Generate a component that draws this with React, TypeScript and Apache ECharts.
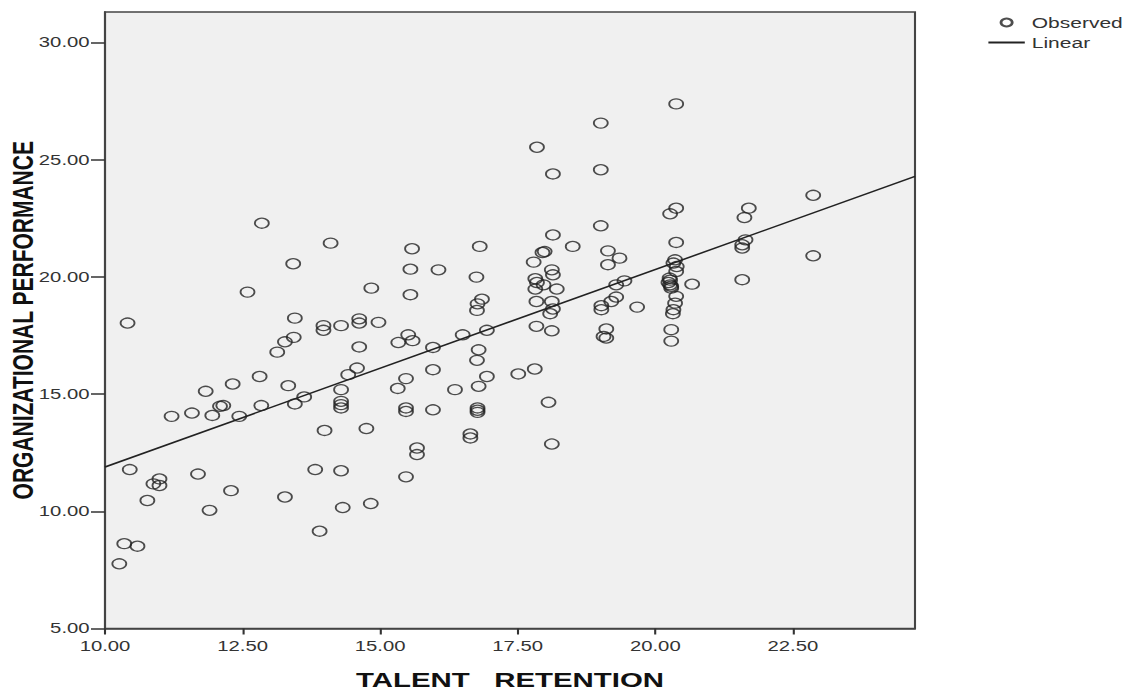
import React, { useEffect, useRef } from "react";
import * as echarts from "echarts";

// Axis ticks / ranges
const X_TICKS = [10, 12.5, 15, 17.5, 20, 22.5];
const Y_TICKS = [5, 10, 15, 20, 25, 30];
const X_MIN = 10;
const X_MAX = 24.72;
const Y_MIN = 5;
const Y_MAX = 31.3;

// Observed points (TALENT RETENTION, ORGANIZATIONAL PERFORMANCE), paired by index
const talentRetention = [
  10.41, 12.85, 14.1, 13.42, 12.59, 14.84, 13.45, 13.97, 13.97, 14.29, 14.62, 14.62, 14.97, 13.43, 13.27,
  13.13, 14.62, 12.81, 12.32, 13.33, 11.83, 14.58, 14.42, 14.29, 11.21, 11.58, 11.95, 12.09, 12.15, 12.44,
  12.84, 13.45, 13.62, 14.29, 14.29, 14.29, 13.99, 14.75, 10.45, 10.99, 10.88, 10.99, 10.77, 11.69, 12.29,
  11.9, 13.27, 13.82, 14.29, 14.32, 14.83, 13.9, 10.35, 10.59, 10.26,
  15.58, 16.81, 15.55, 16.06, 16.75, 15.55, 16.85, 16.77, 16.76, 15.51, 15.33, 15.59, 15.96, 16.5, 16.94,
  16.79, 16.76, 15.96, 15.47, 15.32, 16.36, 16.94, 16.79, 15.47, 15.47, 15.96, 16.77, 16.77, 16.77, 16.64,
  16.64, 15.67, 15.67, 17.51, 17.81, 18.06, 18.12, 15.47,
  17.85, 18.14, 17.79, 17.99, 17.95, 18.14, 18.5, 18.12, 18.14, 17.82, 17.85, 17.82, 17.97, 18.21, 17.84,
  18.12, 18.14, 18.09, 17.84, 18.12,
  19.01, 19.01, 19.01, 19.14, 19.35, 19.14, 19.29, 19.44, 19.29, 19.2, 19.02, 19.02, 19.67, 19.11, 19.06, 19.11,
  20.38, 20.38, 20.27, 20.38, 20.36, 20.33, 20.39, 20.38, 20.26, 20.24, 20.27, 20.29, 20.67, 20.38, 20.36,
  20.33, 20.32, 20.29, 20.29, 20.27, 20.29,
  21.7, 21.62, 21.64, 21.58, 21.58, 21.58, 22.87, 22.87,
];
const orgPerformance = [
  18.03, 22.29, 21.44, 20.56, 19.35, 19.52, 18.24, 17.92, 17.72, 17.92, 18.21, 18.03, 18.06, 17.42, 17.23,
  16.79, 17.01, 15.75, 15.43, 15.36, 15.12, 16.11, 15.83, 15.19, 14.05, 14.19, 14.09, 14.48, 14.51, 14.05,
  14.51, 14.58, 14.88, 14.69, 14.55, 14.41, 13.45, 13.53, 11.78, 11.38, 11.17, 11.1, 10.46, 11.59, 10.88,
  10.04, 10.61, 11.78, 11.73, 10.16, 10.33, 9.15, 8.62, 8.51, 7.76,
  21.2, 21.3, 20.33, 20.3, 19.99, 19.24, 19.05, 18.85, 18.57, 17.53, 17.2, 17.28, 16.99, 17.53, 17.72,
  16.89, 16.44, 16.04, 15.66, 15.24, 15.19, 15.75, 15.33, 14.41, 14.26, 14.33, 14.41, 14.31, 14.22, 13.3,
  13.13, 12.7, 12.42, 15.86, 16.07, 14.65, 12.87, 11.47,
  25.53, 24.39, 20.63, 21.08, 21.04, 21.79, 21.3, 20.3, 20.09, 19.92, 19.76, 19.48, 19.66, 19.48, 18.95,
  18.95, 18.63, 18.43, 17.89, 17.7,
  26.56, 24.57, 22.18, 21.11, 20.8, 20.52, 19.66, 19.83, 19.14, 18.95, 18.77, 18.6, 18.71, 17.78, 17.46, 17.39,
  27.38, 22.93, 22.69, 21.47, 20.73, 20.59, 20.44, 20.23, 19.95, 19.76, 19.66, 19.52, 19.69, 19.17, 18.88,
  18.6, 18.43, 17.75, 17.26, 19.86, 19.6,
  22.93, 22.53, 21.58, 21.37, 21.23, 19.88, 23.48, 20.9,
];

// Linear fit line end points
const linearX = [10, 24.72];
const linearY = [11.89, 24.29];

const W = 1130;
const H = 692;
const STRETCH = 1.4; // the original figure is stretched horizontally
const IW = W / STRETCH;
const FONT = "Liberation Sans, Arial, sans-serif";

export default function App() {
  const ref = useRef<HTMLDivElement>(null);

  useEffect(() => {
    if (!ref.current) return;
    const chart = echarts.init(ref.current, null, { renderer: "svg", width: IW, height: H });

    const observed = talentRetention.map((x, i) => [x, orgPerformance[i]]);
    const linear = linearX.map((x, i) => [x, linearY[i]]);

    const gridLeft = 105 / STRETCH;
    const gridRight = 915 / STRETCH;

    chart.setOption({
      animation: false,
      backgroundColor: "#ffffff",
      grid: {
        left: gridLeft,
        top: 12,
        width: gridRight - gridLeft,
        height: 616.5,
        show: true,
        backgroundColor: "#f0f0f0",
        borderColor: "#444",
        borderWidth: 1.5,
        containLabel: false,
        outerBoundsMode: "none",
      },
      legend: {
        orient: "vertical",
        left: 987 / STRETCH,
        top: 15,
        padding: 0,
        itemWidth: 26,
        itemHeight: 8,
        itemGap: 5,
        textStyle: { fontSize: 15, color: "#333", fontFamily: FONT },
        data: [
          { name: "Observed" },
          { name: "Linear", itemStyle: { color: "transparent", borderColor: "transparent", borderWidth: 0 } },
        ],
      },
      xAxis: {
        type: "value",
        min: X_MIN,
        max: X_MAX,
        name: "TALENT   RETENTION",
        nameLocation: "middle",
        nameGap: 41,
        nameMoveOverlap: false,
        nameTextStyle: { fontFamily: FONT, fontWeight: "bold", fontSize: 21, lineHeight: 21, color: "#111" },
        axisLine: { show: true, onZero: false, lineStyle: { color: "#444", width: 1.5 } },
        axisTick: { show: true, customValues: X_TICKS, length: 6, lineStyle: { color: "#333", width: 1.5 } },
        axisLabel: {
          customValues: X_TICKS,
          formatter: (v: number) => v.toFixed(2),
          fontSize: 14.5,
          color: "#333",
          margin: 10,
          fontFamily: FONT,
        },
        splitLine: { show: false },
      },
      yAxis: {
        type: "value",
        min: Y_MIN,
        max: Y_MAX,
        name: "ORGANIZATIONAL PERFORMANCE",
        nameLocation: "middle",
        nameGap: 48,
        nameMoveOverlap: false,
        nameTextStyle: { fontFamily: FONT, fontWeight: "bold", fontSize: 21, lineHeight: 21, color: "#111" },
        axisLine: { show: true, onZero: false, lineStyle: { color: "#444", width: 1.5 } },
        axisTick: { show: true, customValues: Y_TICKS, length: 10, lineStyle: { color: "#333", width: 1.5 } },
        axisLabel: {
          customValues: Y_TICKS,
          formatter: (v: number) => v.toFixed(2),
          fontSize: 14.5,
          color: "#333",
          margin: 11,
          fontFamily: FONT,
        },
        splitLine: { show: false },
      },
      series: [
        {
          name: "Observed",
          type: "scatter",
          data: observed,
          symbol: "circle",
          symbolSize: 10,
          itemStyle: { color: "transparent", borderColor: "#222", borderWidth: 1.3 },
          z: 3,
        },
        {
          name: "Linear",
          type: "line",
          data: linear,
          symbol: "none",
          showSymbol: false,
          lineStyle: { color: "#222", width: 1.5 },
          itemStyle: { color: "#222" },
          z: 4,
        },
      ],
    });

    return () => chart.dispose();
  }, []);

  return (
    <div
      style={{
        position: "fixed",
        left: 0,
        top: 0,
        width: W,
        height: H,
        overflow: "hidden",
        background: "#fff",
      }}
    >
      <div
        ref={ref}
        style={{ width: IW, height: H, transform: `scaleX(${STRETCH})`, transformOrigin: "0 0" }}
      />
    </div>
  );
}
